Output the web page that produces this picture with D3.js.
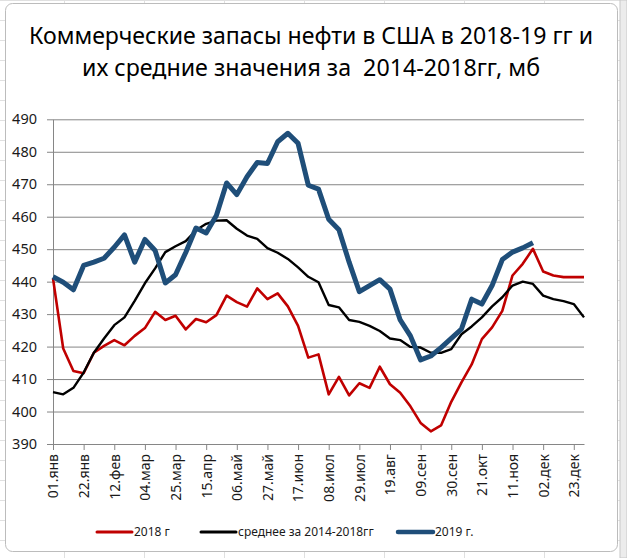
<!DOCTYPE html>
<html>
<head>
<meta charset="utf-8">
<script src="https://cdn.jsdelivr.net/npm/d3@7"></script>
<style>
  html, body { margin: 0; padding: 0; background: #fff; }
  svg { display: block; }
  text { font-family: "Noto Sans", "Open Sans", sans-serif; }
</style>
</head>
<body>
<div id="chart"></div>
<script>
// ===== weekly US commercial crude stocks, mb =====
var tickLabels = ["01.янв","22.янв","12.фев","04.мар","25.мар","15.апр","06.май","27.май","17.июн",
                  "08.июл","29.июл","19.авг","09.сен","30.сен","21.окт","11.ноя","02.дек","23.дек"];

var stocks2018 = [441, 419.4, 412.5, 411.8, 418.1, 420.2, 422, 420.4, 423.3, 425.7, 430.7, 428.2, 429.5,
                  425.3, 428.5, 427.5, 429.7, 435.7, 433.7, 432.3, 437.9, 434.6, 436.4, 432.4, 426.4, 416.6, 417.6,
                  405.3, 410.7, 405, 408.7, 407.3, 413.8, 408.4, 405.8, 401.6, 396.5, 393.9, 395.7,
                  403, 409, 414.5, 422.3, 425.9, 431, 441.9, 445.5, 450.1, 443.1, 441.9, 441.4, 441.4, 441.4];

var avg2014_2018 = [406, 405.3, 407.3, 412, 418.1, 422.5, 426.6, 429, 434.1, 439.5, 444.1, 449.1, 450.9,
                    452.5, 455.8, 457.8, 458.8, 458.9, 456.3, 454.2, 453.2, 450.3, 448.9, 447, 444.4, 441.5, 439.8,
                    432.8, 432.1, 428.2, 427.6, 426.4, 424.8, 422.5, 422, 419.9, 419.7, 418.1, 418.1,
                    419.2, 423.8, 426.2, 429, 432.4, 435.2, 438.8, 440, 439.3, 435.7, 434.6, 434, 433.1, 429];

var stocks2019 = [441.5, 439.8, 437.5, 445, 446, 447.2, 450.6, 454.4, 446, 453, 449.6, 439.6, 442.1,
                  449, 456.5, 455, 460.4, 470.4, 466.8, 472.3, 476.7, 476.4, 483.1, 485.7, 482.6, 469.7, 468.5,
                  459.2, 456, 446, 436.9, 438.8, 440.6, 437.7, 428.2, 423.3, 415.9, 417.1, 419.7,
                  422.5, 425.4, 434.6, 433.1, 438.8, 446.8, 449.1, 450.4, 452];

var seriesNames = ["2018 г", "среднее за 2014-2018гг", "2019 г."];

var W = 627, H = 558;
var svg = d3.select("#chart").append("svg")
    .attr("width", W)
    .attr("height", H)

// spreadsheet cells behind the chart
var cells = svg.append("g").attr("stroke", "#e0e0e0").attr("stroke-width", 1)
d3.range(64, W, 80).forEach(function(cx){
    cells.append("line").attr("x1", cx + 0.5).attr("x2", cx + 0.5).attr("y1", 0).attr("y2", H)
})
d3.range(0, H, 20).forEach(function(cy){
    cells.append("line").attr("x1", 0).attr("x2", W).attr("y1", cy + 0.5).attr("y2", cy + 0.5)
})
svg.append("rect")
    .attr("x", 620).attr("y", 0).attr("width", 7).attr("height", H)
    .attr("fill", "#ececec").attr("stroke", "#c8c8c8")

// chart area
svg.append("rect")
    .attr("x", 5.5).attr("y", 3.5)
    .attr("width", 612).attr("height", 548)
    .attr("rx", 7)
    .attr("fill", "#fff")
    .attr("stroke", "#bcbcbc")

// title
var title = svg.append("g").attr("font-size", "24px").attr("fill", "#000").attr("text-anchor", "middle")
title.append("text").attr("x", 311).attr("y", 44)
    .attr("textLength", 564).attr("lengthAdjust", "spacingAndGlyphs")
    .text("Коммерческие запасы нефти в США в 2018-19 гг и")
title.append("text").attr("x", 311).attr("y", 76)
    .attr("textLength", 458).attr("lengthAdjust", "spacingAndGlyphs")
    .style("white-space", "pre")
    .text("их средние значения за  2014-2018гг, мб")

// scales
var x = d3.scaleLinear().domain([0, 52]).range([53, 584])
var y = d3.scaleLinear().domain([390, 490]).range([444, 119.3])

// y axis with gridlines
var yAxis = svg.append("g")
    .attr("transform", "translate(53,0)")
    .call(d3.axisLeft(y).tickValues(d3.range(390, 491, 10)).tickSizeInner(-(584 - 53)).tickSizeOuter(0).tickPadding(16))
yAxis.select(".domain").attr("stroke", "#868686")
yAxis.selectAll(".tick line").attr("x1", -6).attr("stroke", "#868686")
yAxis.selectAll(".tick text")
    .attr("font-size", "14.5px")
    .attr("fill", "#1a1a1a")
    .attr("font-family", "Noto Sans, sans-serif")

// x axis
var xAxis = svg.append("g")
    .attr("transform", "translate(0,444)")
    .call(d3.axisBottom(x)
        .tickValues(d3.range(0, 52, 3))
        .tickFormat(function(d, i){ return tickLabels[i] })
        .tickSizeInner(6).tickSizeOuter(0))
xAxis.select(".domain").attr("stroke", "#868686")
xAxis.selectAll(".tick line").attr("stroke", "#868686")
xAxis.selectAll(".tick text")
    .attr("font-size", "14px")
    .attr("fill", "#1a1a1a")
    .attr("font-family", "Noto Sans, sans-serif")
    .attr("text-anchor", "end")
    .attr("transform", "rotate(-90)")
    .attr("x", -10)
    .attr("y", 0)
    .attr("dy", "0.35em")

// lines
var line = d3.line()
    .x(function(d, i){ return x(i) })
    .y(function(d){ return y(d) })

var series = [
    {name: seriesNames[0], values: stocks2018, color: "#c00000", width: 2.6},
    {name: seriesNames[1], values: avg2014_2018, color: "#000000", width: 2.4},
    {name: seriesNames[2], values: stocks2019, color: "#1f4e79", width: 5}
]

series.forEach(function(s){
    svg.append("path")
        .datum(s.values)
        .attr("d", line)
        .attr("fill", "none")
        .attr("stroke", s.color)
        .attr("stroke-width", s.width)
        .attr("stroke-linejoin", "round")
})

// legend
var legendX = [97, 201, 398]
series.forEach(function(s, i){
    var g = svg.append("g").attr("transform", "translate(" + legendX[i] + ",532)")
    g.append("line")
        .attr("x1", 0).attr("x2", 35)
        .attr("stroke", s.color)
        .attr("stroke-width", i == 2 ? 4.5 : 3)
        .attr("stroke-linecap", "round")
    g.append("text")
        .text(s.name)
        .attr("x", 37)
        .attr("dy", "0.35em")
        .attr("font-size", "12px")
        .attr("fill", "#1a1a1a")
})
</script>
</body>
</html>
